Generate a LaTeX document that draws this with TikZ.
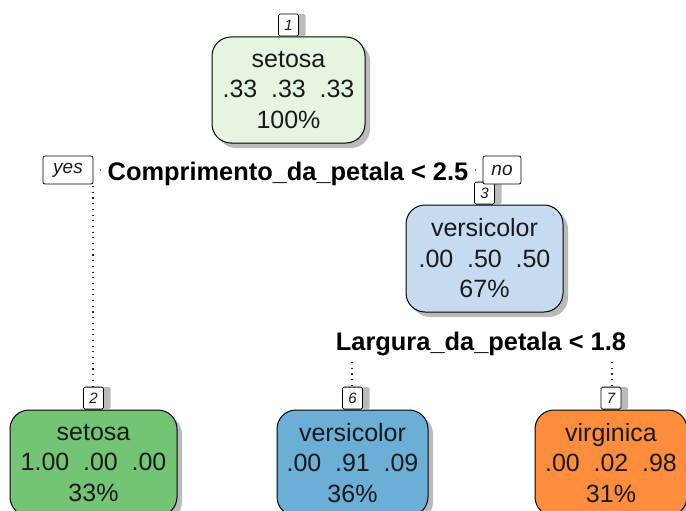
\documentclass[tikz,border=0pt]{standalone}
\usepackage{fontspec}
\setmainfont{Liberation Sans}
\usetikzlibrary{shadows,calc}
\definecolor{cA}{HTML}{E5F5E0}
\definecolor{cB}{HTML}{74C476}
\definecolor{cC}{HTML}{C6DBEF}
\definecolor{cD}{HTML}{6BAED6}
\definecolor{cE}{HTML}{FD8D3C}
\definecolor{txt}{HTML}{1A1A1A}
\newcommand{\gp}{\hspace{0.55em}}
\tikzset{
  leafbox/.style={draw=black, line width=1pt, rounded corners=19pt, align=center,
    minimum width=153pt, minimum height=106pt, inner sep=0pt, text=txt,
    font=\fontsize{25}{30.5}\selectfont,
    drop shadow={shadow xshift=5pt, shadow yshift=-5pt, fill=gray!90, opacity=0.6}},
  numbox/.style={draw=black, line width=0.8pt, fill=white, rounded corners=1.5pt,
    minimum width=20pt, minimum height=22pt, inner sep=0pt, anchor=south,
    font=\fontsize{15}{15}\selectfont\itshape, text=txt,
    drop shadow={shadow xshift=7pt, shadow yshift=0pt, fill=gray!90, opacity=0.6}},
  ynbox/.style={draw=black, line width=0.8pt, fill=white, rounded corners=2pt,
    minimum height=28pt, inner sep=0pt, font=\fontsize{19}{19}\selectfont\itshape, text=txt},
  splitlab/.style={anchor=base, inner sep=0pt, font=\fontsize{25.4}{26}\selectfont\bfseries},
  dotline/.style={line width=1.2pt, dash pattern=on 1.1pt off 4.6pt, draw=black!85}
}
\begin{document}
\begin{tikzpicture}[x=1pt,y=-1pt]
\useasboundingbox (0,0) rectangle (686,511);
\clip (0,0) rectangle (686,511);
% internal nodes
\node[leafbox, fill=cA] (n1) at (288.5,90) {setosa\\.33\gp.33\gp.33\\100\%};
\node[numbox] (l1) at (n1.north) {1};
\node[leafbox, fill=cC, minimum width=157pt, minimum height=107pt] (n3) at (484.5,258.5) {versicolor\\.00\gp.50\gp.50\\67\%};
\node[numbox] (l3) at (n3.north) {3};
% leaves
\node[leafbox, fill=cB, minimum width=167pt] (n2) at (93.5,463) {setosa\\1.00\gp.00\gp.00\\33\%};
\node[numbox] (l2) at (n2.north) {2};
\node[leafbox, fill=cD, minimum width=151pt] (n6) at (352.5,463) {versicolor\\.00\gp.91\gp.09\\36\%};
\node[numbox] (l6) at (n6.north) {6};
\node[leafbox, fill=cE, minimum width=152pt] (n7) at (611,463) {virginica\\.00\gp.02\gp.98\\31\%};
\node[numbox] (l7) at (n7.north) {7};
% split labels
\node[splitlab] (s1) at (288,180) {Comprimento\_da\_petala < 2.5};
\node[splitlab] (s2) at (481,350) {Largura\_da\_petala < 1.8};
% yes / no
\node[ynbox, minimum width=50pt] (yes) at (68,170) {yes};
\node[ynbox, minimum width=38pt] (no) at (502,170) {no};
% connectors
\coordinate (yd) at (93,186);
\coordinate (d6) at (352,362);
\coordinate (d7) at (612,362);
\draw[dotline] (yd) -- (yd |- l2.north);
\draw[dotline] (d6) -- (d6 |- l6.north);
\draw[dotline] (d7) -- (d7 |- l7.north);
\fill[black!85] ($(yes.east)!0.5!(s1.west |- yes.east)$) circle (0.8pt);
\fill[black!85] ($(s1.east |- no.west)!0.5!(no.west)$) circle (0.8pt);
\end{tikzpicture}
\end{document}
